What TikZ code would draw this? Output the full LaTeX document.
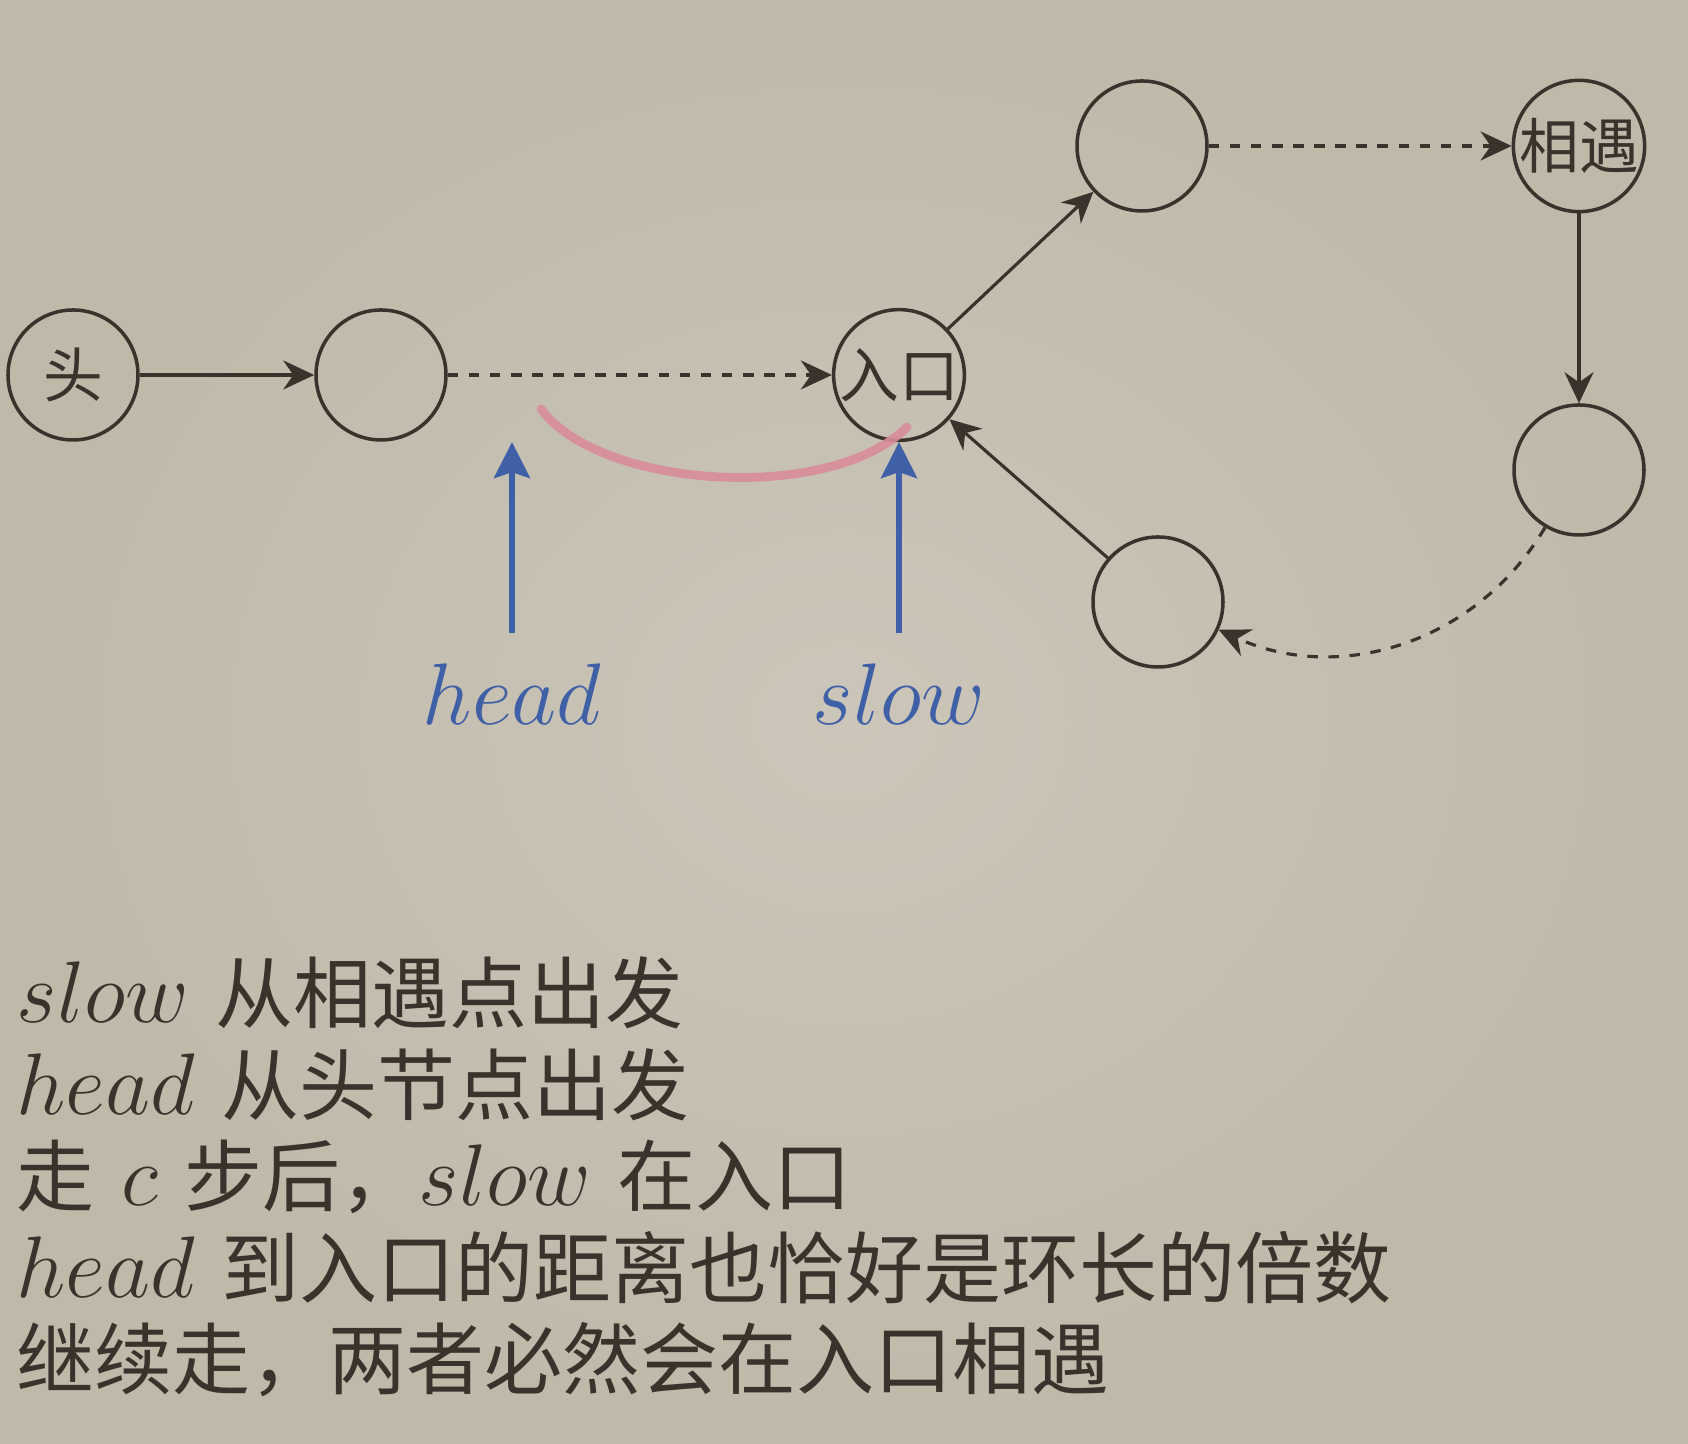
\documentclass[tikz,border=0pt]{standalone}
\usepackage{fontspec}
\newfontfamily\cjk{Noto Sans CJK SC}
\newcommand{\zhtext}[1]{{\cjk\fontsize{22.2}{30}\selectfont #1}}
\usetikzlibrary{arrows.meta, positioning}
\definecolor{inkdark}{HTML}{3A332C}
\definecolor{pointblue}{HTML}{3F5FA6}
\definecolor{markpink}{HTML}{D98C98}
\definecolor{paperin}{HTML}{CBC6B9}
\definecolor{paperout}{HTML}{BFB9AA}
\tikzset{
	listnode/.style={
			circle,
			draw=inkdark,
			line width=1pt,
			minimum size=13mm,
			inner sep=0pt,
			text=inkdark,
			font=\cjk\fontsize{17}{20}\selectfont
		},
	linkarrow/.style={
			draw=inkdark,
			line width=0.9pt,
			-{Stealth[length=3.1mm, width=2.9mm]}
		},
	linkdashed/.style={
			linkarrow,
			dashed
		},
	pointer/.style={
			draw=pointblue,
			line width=1.6pt,
			-{Stealth[length=3.6mm, width=3.6mm, inset=0.6mm]}
		},
	pointerlabel/.style={
			text=pointblue,
			inner sep=0pt,
			font=\fontsize{25}{30}\selectfont
		},
	noteline/.style={
			anchor=base west,
			inner sep=0pt,
			text=inkdark,
			font=\fontsize{25}{30}\selectfont
		}
}

\begin{document}
\begin{tikzpicture}
\useasboundingbox (0,0) rectangle (16.88,14.44);
\shade[inner color=paperin, outer color=paperout] (0,0) rectangle (16.88,14.44);

\node[listnode] (tHead) at (0.73,10.69) {头};
\node[listnode] (tA) at (3.81,10.69) {};
\node[listnode] (tEntry) at (8.99,10.69) {入口};
\node[listnode] (tB) at (11.42,12.98) {};
\node[listnode] (tMeet) at (15.79,12.98) {相遇};
\node[listnode] (tC) at (15.79,9.74) {};
\node[listnode] (tD) at (11.58,8.42) {};

\draw[linkarrow] (tHead) -- (tA);
\draw[linkdashed] (tA) -- (tEntry);
\draw[linkarrow] (tEntry) -- (tB);
\draw[linkdashed] (tB) -- (tMeet);
\draw[linkarrow] (tMeet) -- (tC);
\draw[linkdashed] (tC) to[bend left=42] (tD);
\draw[linkarrow] (tD) -- (tEntry);

% hand-drawn mark
\draw[markpink, line width=2.5pt, line cap=round, opacity=0.9]
  (5.41,10.35) .. controls (6.0,9.55) and (8.3,9.4) .. (9.07,10.17);

\node[pointerlabel] (lblHead) at (5.12,7.50) {$head$};
\node[pointerlabel] (lblSlow) at (8.99,7.50) {$slow$};
\draw[pointer] ([yshift=3mm]lblHead.north) -- (lblHead.north |- tEntry.south);
\draw[pointer] ([yshift=3mm]lblSlow.north) -- (tEntry.south);

\node[noteline] (note1) at (0.16,4.21) {$slow$ \zhtext{从相遇点出发}};
\node[noteline] (note2) at (0.16,3.295) {$head$ \zhtext{从头节点出发}};
\node[noteline] (note3) at (0.16,2.38) {\zhtext{走} $c$ \zhtext{步后，}$slow$ \zhtext{在入口}};
\node[noteline] (note4) at (0.16,1.465) {$head$ \zhtext{到入口的距离也恰好是环长的倍数}};
\node[noteline] (note5) at (0.16,0.55) {\zhtext{继续走，两者必然会在入口相遇}};
\end{tikzpicture}
\end{document}
